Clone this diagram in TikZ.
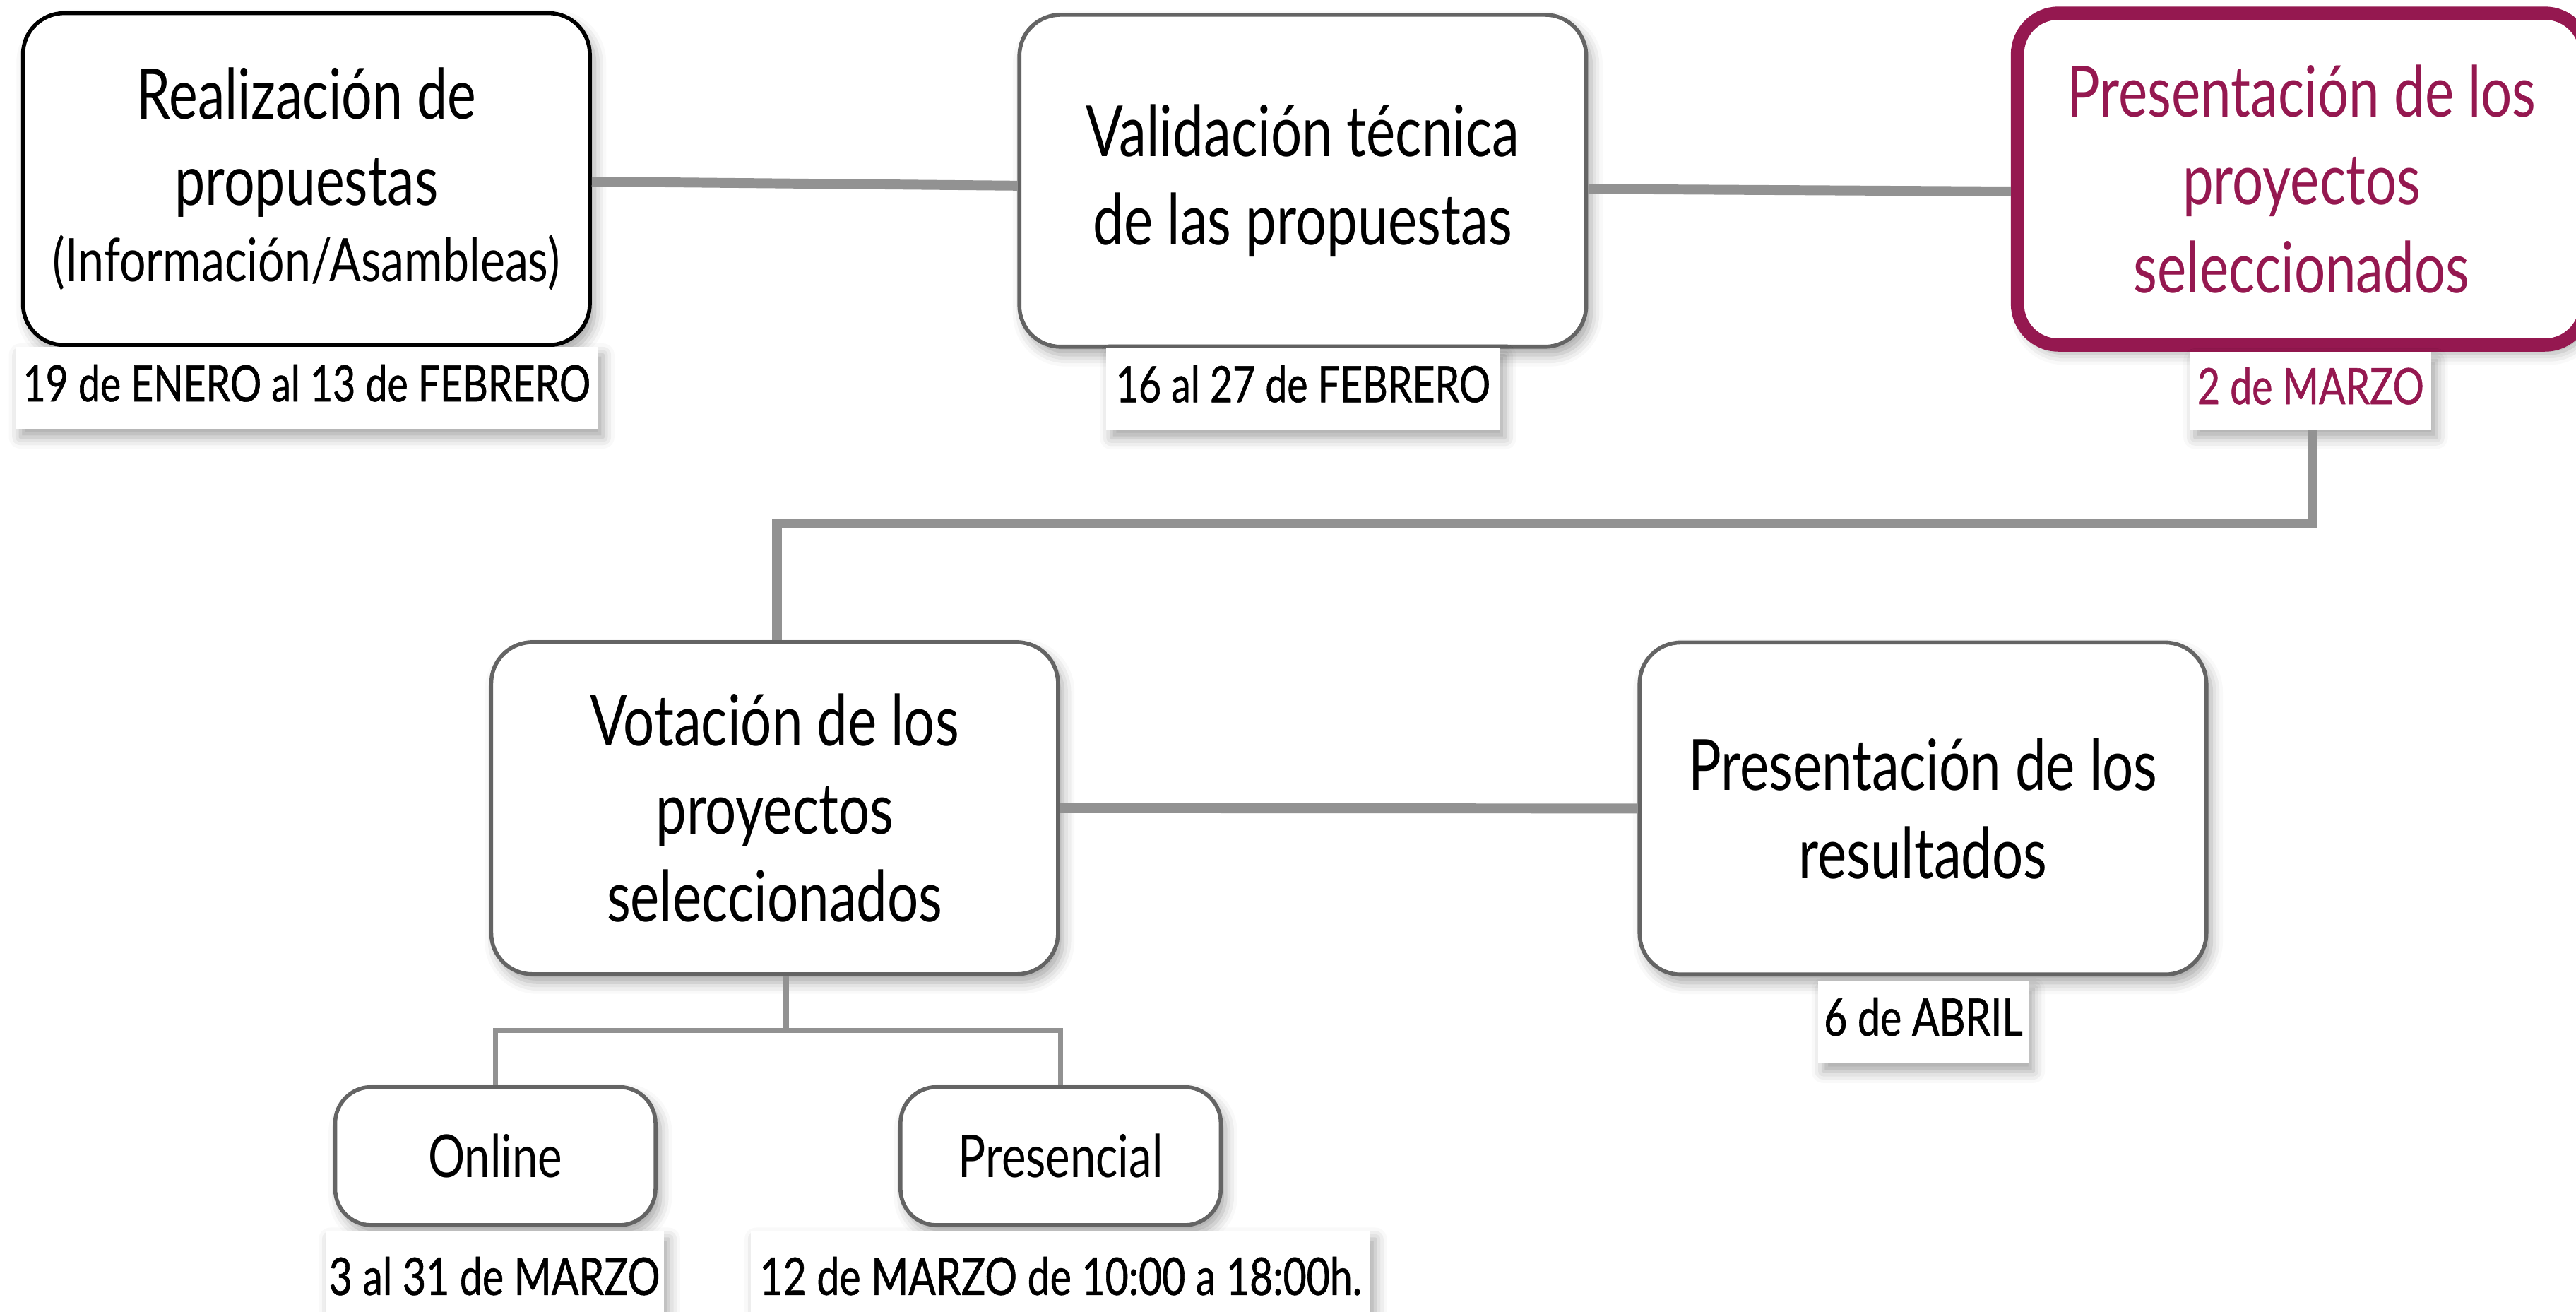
\documentclass[tikz,border=0pt]{standalone}
\usepackage{fontspec}
\setmainfont{Lato}[FakeStretch=0.78]
\newfontfamily\datefont{Lato}[FakeStretch=0.78,FakeBold=0.8]
\usetikzlibrary{shadows.blur}
\definecolor{mag}{RGB}{149,24,80}
\definecolor{bordergray}{RGB}{100,100,100}
\definecolor{linegray}{RGB}{146,146,146}
\begin{document}
\begin{tikzpicture}[x=1pt,y=-1pt,
  softshadow/.style={blur shadow={shadow xshift=3pt,shadow yshift=-5pt,shadow blur radius=7pt,shadow opacity=35}},
  card/.style={draw=bordergray,line width=2.4pt,fill=white,rounded corners=25pt,align=center,inner sep=0pt,softshadow},
  bigcard/.style={card,minimum width=345pt,minimum height=202pt,font=\fontsize{43}{53.5}\selectfont},
  smallcard/.style={card,rounded corners=22pt,minimum width=195pt,minimum height=84pt,font=\fontsize{36}{43}\selectfont},
  datebox/.style={fill=white,inner sep=0pt,minimum height=50pt,text height=21pt,text depth=4.5pt,
     font=\datefont\fontsize{30.5}{36}\selectfont,softshadow},
  lowdate/.style={datebox,minimum height=78pt,text depth=21pt,font=\datefont\fontsize{31.5}{36}\selectfont},
  conn/.style={draw=linegray,line width=6pt},
  branch/.style={draw=linegray,line width=2.8pt},
]
\useasboundingbox (0,0) rectangle (1568,798);

% top row
\node[bigcard,draw=black,font=\fontsize{42.5}{52.5}\selectfont] (b1) at (186.5,109)
  {Realización de\\propuestas\\[-6pt]{\fontsize{36.5}{44}\selectfont(Información/Asambleas)}};
\node[bigcard] (b2) at (793,110) {Validación técnica\\de las propuestas};
\node[bigcard,draw=mag,text=mag,line width=8pt,minimum width=346pt,minimum height=202pt] (b3) at (1401,109)
  {Presentación de los\\proyectos\\seleccionados};

\node[datebox,minimum width=354.6pt] (d1) at (186.7,236) {19 de ENERO al 13 de FEBRERO};
\node[datebox,minimum width=239.5pt] (d2) at (793.2,236.5) {16 al 27 de FEBRERO};
\node[datebox,minimum width=147pt,minimum height=47pt,text=mag] (d3) at (1406.5,237.7) {2 de MARZO};

% middle row
\node[bigcard] (b4) at (471.5,491.8) {Votación de los\\proyectos\\seleccionados};
\node[bigcard] (b5) at (1170.5,492) {Presentación de los\\resultados};
\node[datebox,minimum width=128pt,font=\datefont\fontsize{31.5}{36}\selectfont] (d5) at (1170.7,622) {6 de ABRIL};

% bottom row
\node[smallcard] (on) at (301.5,703.5) {Online};
\node[smallcard] (pr) at (645.6,703.5) {Presencial};
\node[lowdate,minimum width=206pt] (d6) at (301,788) {3 al 31 de MARZO};
\node[lowdate,minimum width=377pt] (d7) at (645.7,788) {12 de MARZO de 10:00 a 18:00h.};

% connectors
\draw[conn] ([yshift=-1.5pt]b1.east) -- ([yshift=-3pt]b2.west);
\draw[conn] ([yshift=-5pt]b2.east) -- ([yshift=-7.5pt]b3.west);
\draw[conn] ([xshift=1pt]d3.south) -- ++(0,57) -| ([xshift=1.5pt]b4.north);
\draw[conn] (b4.east) -- (b5.west);

\coordinate (fork) at (478.5,627);
\draw[branch,line width=3.5pt] (b4.south -| fork) -- (fork);
\draw[branch] (on.north) -- (on.north |- fork) -- (pr.north |- fork) -- (pr.north);
\end{tikzpicture}
\end{document}
